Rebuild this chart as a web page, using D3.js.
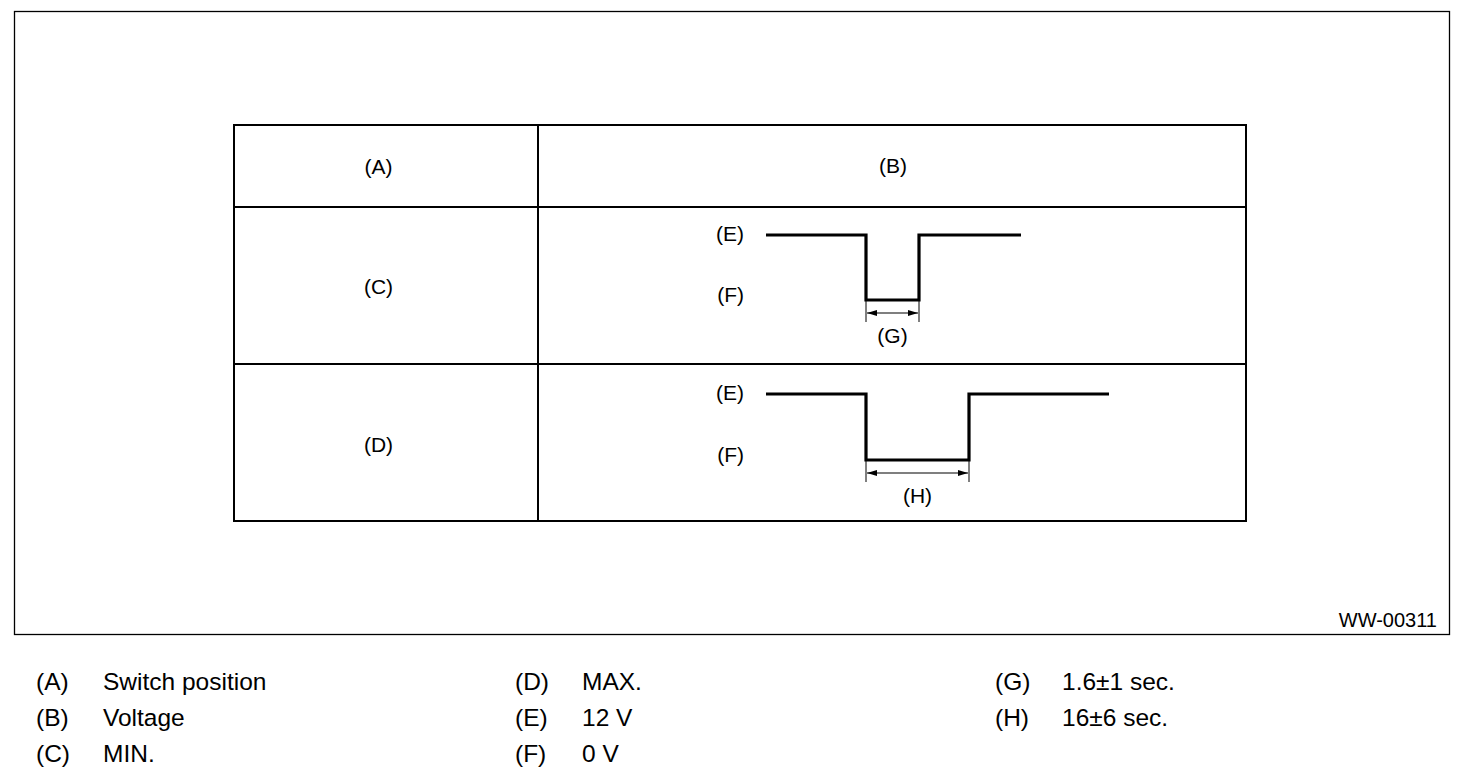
<!DOCTYPE html>
<html>
<head>
<meta charset="utf-8">
<script src="https://cdn.jsdelivr.net/npm/d3@7"></script>
<style>
  html, body { margin: 0; padding: 0; background: #fff; }
  svg { display: block; font-family: "Liberation Sans", Arial, sans-serif; }
</style>
</head>
<body>
<div id="chart"></div>
<script>
// table contents
const headerLabels = ['(A)', '(B)'];
const rowLabels = ['(C)', '(D)'];
const levelLabels = ['(E)', '(F)'];
const spanLabels = ['(G)', '(H)'];

// waveform points (time units, volts) for each row
const waveC = [
    {t: 0, v: 12}, {t: 100, v: 12}, {t: 100, v: 0},
    {t: 153, v: 0}, {t: 153, v: 12}, {t: 255, v: 12}
];
const waveD = [
    {t: 0, v: 12}, {t: 100, v: 12}, {t: 100, v: 0},
    {t: 203, v: 0}, {t: 203, v: 12}, {t: 343, v: 12}
];
// low pulse span [start, end] per row
const spanC = [100, 153];
const spanD = [100, 203];

// legend
const legendKeys = ['(A)', '(B)', '(C)', '(D)', '(E)', '(F)', '(G)', '(H)'];
const legendTexts = ['Switch position', 'Voltage', 'MIN.', 'MAX.', '12 V', '0 V', '1.6\u00b11 sec.', '16\u00b16 sec.'];
const figureId = 'WW-00311';

const W = 1472, H = 778;
const svg = d3.select('#chart').append('svg')
    .attr('width', W)
    .attr('height', H);

svg.append('defs').append('marker')
    .attr('id', 'arr')
    .attr('viewBox', '0 0 10 10')
    .attr('refX', 10).attr('refY', 5)
    .attr('markerWidth', 10).attr('markerHeight', 10)
    .attr('markerUnits', 'userSpaceOnUse')
    .attr('orient', 'auto-start-reverse')
    .append('path')
    .attr('d', 'M0,2 L10,5 L0,8 Z')
    .attr('fill', '#000');

// outer frame
svg.append('rect')
    .attr('x', 14.5).attr('y', 11.5)
    .attr('width', 1435).attr('height', 623)
    .attr('fill', 'none').attr('stroke', '#000').attr('stroke-width', 1.3);

svg.append('text')
    .attr('x', 1437).attr('y', 626.5)
    .attr('text-anchor', 'end')
    .attr('font-size', 20)
    .text(figureId);

// table
const tbl = {left: 234, right: 1246, split: 538, rows: [125, 207, 364, 521]};
const g = svg.append('g').attr('stroke', '#000').attr('stroke-width', 2).attr('fill', 'none');
g.append('rect')
    .attr('x', tbl.left).attr('y', tbl.rows[0])
    .attr('width', tbl.right - tbl.left).attr('height', tbl.rows[3] - tbl.rows[0]);
g.append('line').attr('x1', tbl.split).attr('x2', tbl.split).attr('y1', tbl.rows[0]).attr('y2', tbl.rows[3]);
[1, 2].forEach(i => {
    g.append('line').attr('x1', tbl.left).attr('x2', tbl.right).attr('y1', tbl.rows[i]).attr('y2', tbl.rows[i]);
});

// small label helper: y is the visual middle of the glyphs
const cellFont = 21;
function label(x, y, txt, anchor) {
    svg.append('text').attr('x', x).attr('y', y + cellFont * 0.258)
        .attr('text-anchor', anchor || 'middle')
        .attr('font-size', cellFont).text(txt);
}

label(378.5, 169, headerLabels[0]);
label(893, 168, headerLabels[1]);

const x = d3.scaleLinear().domain([0, 343]).range([766, 1109]);

const rows = [
    {label: rowLabels[0], labelY: 289, wave: waveC, span: spanC, spanLabel: spanLabels[0], yTop: 235, yBot: 300},
    {label: rowLabels[1], labelY: 447, wave: waveD, span: spanD, spanLabel: spanLabels[1], yTop: 394, yBot: 460}
];

rows.forEach(r => {
    const y = d3.scaleLinear().domain([0, 12]).range([r.yBot, r.yTop]);

    label(378.5, r.labelY, r.label);
    label(744, y(12) + 1, levelLabels[0], 'end');
    label(744, y(0) - 3, levelLabels[1], 'end');

    svg.append('path')
        .datum(r.wave)
        .attr('d', d3.line().x(d => x(d.t)).y(d => y(d.v)))
        .attr('fill', 'none').attr('stroke', '#000').attr('stroke-width', 3.2)
        .attr('stroke-linejoin', 'miter');

    const x0 = x(r.span[0]), x1 = x(r.span[1]);
    const ay = y(0) + 13;
    r.span.forEach(t => {
        svg.append('line').attr('x1', x(t)).attr('x2', x(t))
            .attr('y1', y(0) + 1).attr('y2', y(0) + 22)
            .attr('stroke', '#000').attr('stroke-width', 1);
    });
    svg.append('line')
        .attr('x1', x0 + 1).attr('x2', x1 - 1).attr('y1', ay).attr('y2', ay)
        .attr('stroke', '#000').attr('stroke-width', 1.2)
        .attr('marker-start', 'url(#arr)').attr('marker-end', 'url(#arr)');

    label((x0 + x1) / 2, y(0) + 38, r.spanLabel);
});

// legend, 3 columns
const colX = [36, 515, 995];
const textOff = 67;
const rowY = [689.5, 725.5, 761.5];
const legFont = 24.5;
legendKeys.forEach((k, i) => {
    const c = Math.floor(i / 3), rr = i % 3;
    svg.append('text').attr('x', colX[c]).attr('y', rowY[rr])
        .attr('font-size', legFont).text(k);
    svg.append('text').attr('x', colX[c] + textOff).attr('y', rowY[rr])
        .attr('font-size', legFont).text(legendTexts[i]);
});
</script>
</body>
</html>
